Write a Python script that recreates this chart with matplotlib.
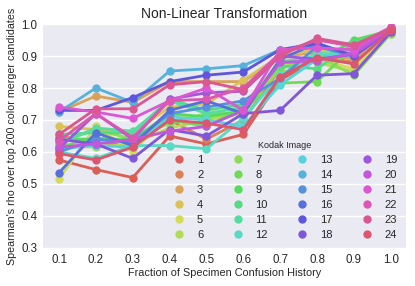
import numpy as np
import matplotlib
matplotlib.use("Agg")
import matplotlib.pyplot as plt
from matplotlib.lines import Line2D
import seaborn as sns

sns.set_style("darkgrid")
plt.rcParams['font.family'] = ['Liberation Sans', 'DejaVu Sans']

fractions = ["0.1", "0.2", "0.3", "0.4", "0.5", "0.6", "0.7", "0.8", "0.9", "1.0"]
images = [str(i) for i in range(1, 25)]

s1 = [0.575, 0.545, 0.52, 0.65, 0.625, 0.655, 0.825, 0.89, 0.88, 0.98]
s2 = [0.65, 0.63, 0.62, 0.70, 0.64, 0.70, 0.86, 0.90, 0.88, 0.975]
s3 = [0.725, 0.775, 0.755, 0.82, 0.82, 0.82, 0.90, 0.91, 0.89, 0.98]
s4 = [0.68, 0.67, 0.66, 0.74, 0.75, 0.825, 0.90, 0.92, 0.90, 0.985]
s5 = [0.515, 0.68, 0.60, 0.72, 0.70, 0.72, 0.87, 0.89, 0.86, 0.975]
s6 = [0.62, 0.615, 0.625, 0.675, 0.70, 0.73, 0.89, 0.88, 0.85, 0.97]
s7 = [0.63, 0.67, 0.64, 0.69, 0.72, 0.72, 0.86, 0.90, 0.84, 0.97]
s8 = [0.615, 0.645, 0.63, 0.70, 0.68, 0.74, 0.815, 0.82, 0.93, 0.975]
s9 = [0.64, 0.64, 0.64, 0.72, 0.71, 0.73, 0.88, 0.88, 0.95, 0.98]
s10 = [0.655, 0.66, 0.66, 0.765, 0.73, 0.75, 0.87, 0.86, 0.94, 0.98]
s11 = [0.625, 0.675, 0.665, 0.76, 0.72, 0.74, 0.88, 0.90, 0.92, 0.985]
s12 = [0.60, 0.58, 0.62, 0.62, 0.61, 0.705, 0.84, 0.91, 0.90, 0.98]
s13 = [0.61, 0.62, 0.615, 0.71, 0.70, 0.68, 0.81, 0.89, 0.91, 0.985]
s14 = [0.725, 0.80, 0.755, 0.853, 0.86, 0.87, 0.92, 0.93, 0.90, 0.985]
s15 = [0.60, 0.64, 0.63, 0.72, 0.74, 0.76, 0.83, 0.93, 0.90, 0.98]
s16 = [0.535, 0.66, 0.62, 0.73, 0.76, 0.72, 0.89, 0.94, 0.90, 0.98]
s17 = [0.73, 0.73, 0.77, 0.82, 0.84, 0.85, 0.92, 0.94, 0.90, 0.985]
s18 = [0.64, 0.625, 0.58, 0.67, 0.65, 0.72, 0.73, 0.84, 0.845, 0.975]
s19 = [0.61, 0.72, 0.64, 0.765, 0.785, 0.79, 0.90, 0.89, 0.905, 0.98]
s20 = [0.615, 0.625, 0.64, 0.665, 0.68, 0.73, 0.88, 0.885, 0.91, 0.985]
s21 = [0.74, 0.725, 0.705, 0.76, 0.80, 0.73, 0.92, 0.925, 0.92, 0.99]
s22 = [0.635, 0.72, 0.645, 0.76, 0.765, 0.80, 0.91, 0.95, 0.93, 0.99]
s23 = [0.655, 0.735, 0.735, 0.81, 0.82, 0.795, 0.90, 0.955, 0.935, 0.985]
s24 = [0.595, 0.575, 0.615, 0.70, 0.69, 0.67, 0.835, 0.895, 0.875, 0.98]

series = [s1, s2, s3, s4, s5, s6, s7, s8, s9, s10, s11, s12,
          s13, s14, s15, s16, s17, s18, s19, s20, s21, s22, s23, s24]

colors = sns.color_palette("hls", len(images))

fig = plt.figure(figsize=(4.15, 2.86), dpi=100)
ax = fig.add_axes([0.104, 0.133, 0.874, 0.783])
ax.set_facecolor("#EAEAF2")

xpos = np.arange(len(fractions))
for vals, c in zip(series, colors):
    ax.plot(xpos, vals, color=c, lw=2.0, marker="o", markersize=6.0,
            markeredgewidth=0)

ax.set_xticks(xpos)
ax.set_xticklabels(fractions)
ax.set_xlim(-0.43, 9.41)
ax.set_ylim(0.3, 1.0)
ax.set_yticks(np.arange(0.3, 1.01, 0.1))
ax.set_yticklabels([f"{v:.1f}" for v in np.arange(0.3, 1.01, 0.1)])
ax.grid(False, axis="x")
ax.grid(True, axis="y", color="white", lw=1.0)
ax.tick_params(axis="both", labelsize=8.3, length=0, pad=4)
for sp in ax.spines.values():
    sp.set_visible(False)

ax.set_title("Non-Linear Transformation", fontsize=10, pad=4)
ax.set_xlabel("Fraction of Specimen Confusion History", fontsize=7.8, labelpad=2)
ax.set_ylabel("Spearman's rho over top 200 color merger candidates",
              fontsize=7.7, labelpad=3)

handles = [Line2D([], [], linestyle="none", marker="o", markersize=6.0,
                  markeredgewidth=0, color=c) for c in colors]
leg = ax.legend(handles, images, title="Kodak Image", ncol=4, loc="lower right",
                bbox_to_anchor=(0.998, 0.0), frameon=False, fontsize=8,
                title_fontsize=6.5, handletextpad=1.0, columnspacing=2.5,
                labelspacing=0.45, borderaxespad=0.3, handlelength=1.2)

fig.savefig("out.png", dpi=100)
